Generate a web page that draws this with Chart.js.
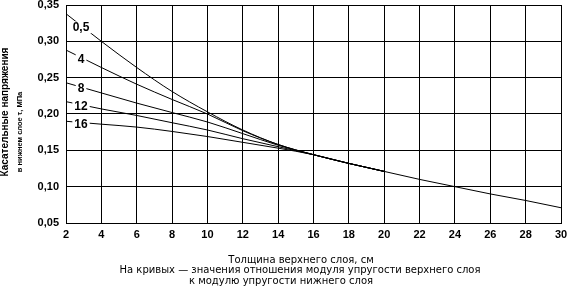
<!DOCTYPE html>
<html lang="ru">
<head>
<meta charset="utf-8">
<title>Касательные напряжения</title>
<script src="https://cdn.jsdelivr.net/npm/chart.js@4"></script>
<style>
  html, body { margin: 0; padding: 0; background: #fff; }
  #wrap { position: relative; width: 568px; height: 295px; }
</style>
</head>
<body>
<div id="wrap"><canvas id="stressChart" width="568" height="295"></canvas></div>
<script>
// Толщина верхнего слоя, см (ось X)
const thicknessCm = [2, 4, 6, 8, 10, 12, 14, 16, 18, 20, 22, 24, 26, 28, 30];

// Отношение модулей упругости (подписи кривых)
const ratioLabels = ['0,5', '4', '8', '12', '16'];

// Касательные напряжения, МПа — по кривым
const stress05 = [0.338, 0.300, 0.264, 0.231, 0.203, 0.178, 0.158, 0.144, 0.132, 0.121, 0.110, 0.100, 0.090, 0.081, 0.071];
const stress4  = [0.288, 0.264, 0.241, 0.220, 0.200, 0.177, 0.158, 0.144, 0.132, 0.121];
const stress8  = [0.243, 0.229, 0.215, 0.202, 0.189, 0.173, 0.157, 0.144, 0.132, 0.121];
const stress12 = [0.217, 0.207, 0.198, 0.188, 0.178, 0.166, 0.155, 0.144, 0.132, 0.121];
const stress16 = [0.190, 0.186, 0.182, 0.176, 0.169, 0.161, 0.153, 0.144, 0.132, 0.121];

// Деления осей
const yTicks = [0.05, 0.10, 0.15, 0.20, 0.25, 0.30, 0.35];
const xTicks = [2, 4, 6, 8, 10, 12, 14, 16, 18, 20, 22, 24, 26, 28, 30];

const yTitleLines = ['Касательные напряжения', 'в нижнем слое τ, МПа'];
const xTitleLines = [
    'Толщина верхнего слоя, см',
    'На кривых — значения отношения модуля упругости верхнего слоя',
    'к модулю упругости нижнего слоя'
];

const FONT = '"Liberation Sans", Arial, sans-serif';
const TITLE_FONT = '"DejaVu Sans", "Liberation Sans", sans-serif';
const LABEL_AT_X = 2.85; // где стоят подписи кривых

const allSeries = [stress05, stress4, stress8, stress12, stress16];

function toPoints(values) {
    return values.map((v, i) => ({ x: thicknessCm[i], y: v }));
}

function fmtComma(v) {
    return Number(v).toFixed(2).replace('.', ',');
}

// значение кривой в точке x (линейно между узлами)
function valueAt(values, x) {
    for (let i = 0; i < values.length - 1; i++) {
        const x0 = thicknessCm[i], x1 = thicknessCm[i + 1];
        if (x >= x0 && x <= x1) {
            return values[i] + (values[i + 1] - values[i]) * (x - x0) / (x1 - x0);
        }
    }
    return values[values.length - 1];
}

/**
 * Подписи кривых и заголовки осей
 */
const annotatePlugin = {
    id: 'annotate',
    afterDatasetsDraw(chart) {
        const ctx = chart.ctx;
        const xs = chart.scales.x, ys = chart.scales.y;
        ctx.save();
        ctx.font = 'bold 12px ' + FONT;
        ctx.textAlign = 'center';
        ctx.textBaseline = 'middle';
        ratioLabels.forEach((lbl, i) => {
            const px = xs.getPixelForValue(LABEL_AT_X);
            const py = ys.getPixelForValue(valueAt(allSeries[i], LABEL_AT_X)) + 2;
            const w = ctx.measureText(lbl).width + 4;
            ctx.fillStyle = '#fff';
            ctx.fillRect(px - w / 2, py - 6, w, 12);
            ctx.fillStyle = '#000';
            ctx.fillText(lbl, px, py);
        });
        ctx.restore();
    },
    afterDraw(chart) {
        const ctx = chart.ctx;
        ctx.save();
        ctx.fillStyle = '#000';
        ctx.textAlign = 'center';
        ctx.textBaseline = 'middle';

        // подпись оси Y (повернута)
        ctx.translate(5, 112);
        ctx.rotate(-Math.PI / 2);
        ctx.font = 'bold 10px ' + FONT;
        ctx.fillText(yTitleLines[0], 0, 0);
        ctx.font = 'bold 7.5px ' + FONT;
        ctx.fillText(yTitleLines[1], -20, 15);
        ctx.setTransform(1, 0, 0, 1, 0, 0);

        // подпись оси X
        ctx.font = '10px ' + TITLE_FONT;
        const centers = [301, 300, 281];
        xTitleLines.forEach((t, i) => {
            ctx.fillText(t, centers[i], 260 + i * 10.5);
        });
        ctx.restore();
    }
};

function buildDatasets() {
    return allSeries.map((vals, i) => ({
        label: ratioLabels[i],
        data: toPoints(vals),
        borderColor: '#000',
        borderWidth: 1,
        pointRadius: 0,
        fill: false,
        cubicInterpolationMode: 'monotone'
    }));
}

function renderChart() {
    const canvas = document.getElementById('stressChart');
    const ctx = canvas.getContext('2d');
    new Chart(ctx, {
        type: 'line',
        data: { datasets: buildDatasets() },
        options: {
            responsive: false,
            animation: false,
            devicePixelRatio: 1,
            layout: { padding: { top: 0, right: 0, left: 0, bottom: 0 } },
            plugins: {
                legend: { display: false },
                tooltip: { enabled: false }
            },
            scales: {
                x: {
                    type: 'linear',
                    min: 2,
                    max: 30,
                    afterFit(scale) {
                        scale.height = 72;
                        scale.paddingLeft = 0;
                        scale.paddingRight = 7; // график почти до края, как в оригинале
                    },
                    afterBuildTicks(scale) { scale.ticks = xTicks.map(v => ({ value: v })); },
                    grid: { color: '#000', lineWidth: 1, drawTicks: false },
                    border: { color: '#000', width: 1 },
                    ticks: {
                        color: '#000',
                        padding: 6,
                        maxRotation: 0,
                        font: { family: FONT, size: 11, weight: 'bold', lineHeight: 1 },
                        callback: v => String(v)
                    }
                },
                y: {
                    type: 'linear',
                    min: 0.05,
                    max: 0.35,
                    afterFit(scale) {
                        scale.width = 66;
                        scale.paddingTop = 5;
                        scale.paddingBottom = 0;
                    },
                    afterBuildTicks(scale) { scale.ticks = yTicks.map(v => ({ value: v })); },
                    grid: { color: '#000', lineWidth: 1, drawTicks: false },
                    border: { color: '#000', width: 1 },
                    ticks: {
                        color: '#000',
                        padding: 7,
                        font: { family: FONT, size: 11, weight: 'bold', lineHeight: 1 },
                        callback: v => fmtComma(v)
                    }
                }
            }
        },
        plugins: [annotatePlugin]
    });
}

document.addEventListener('DOMContentLoaded', renderChart);
</script>
</body>
</html>
